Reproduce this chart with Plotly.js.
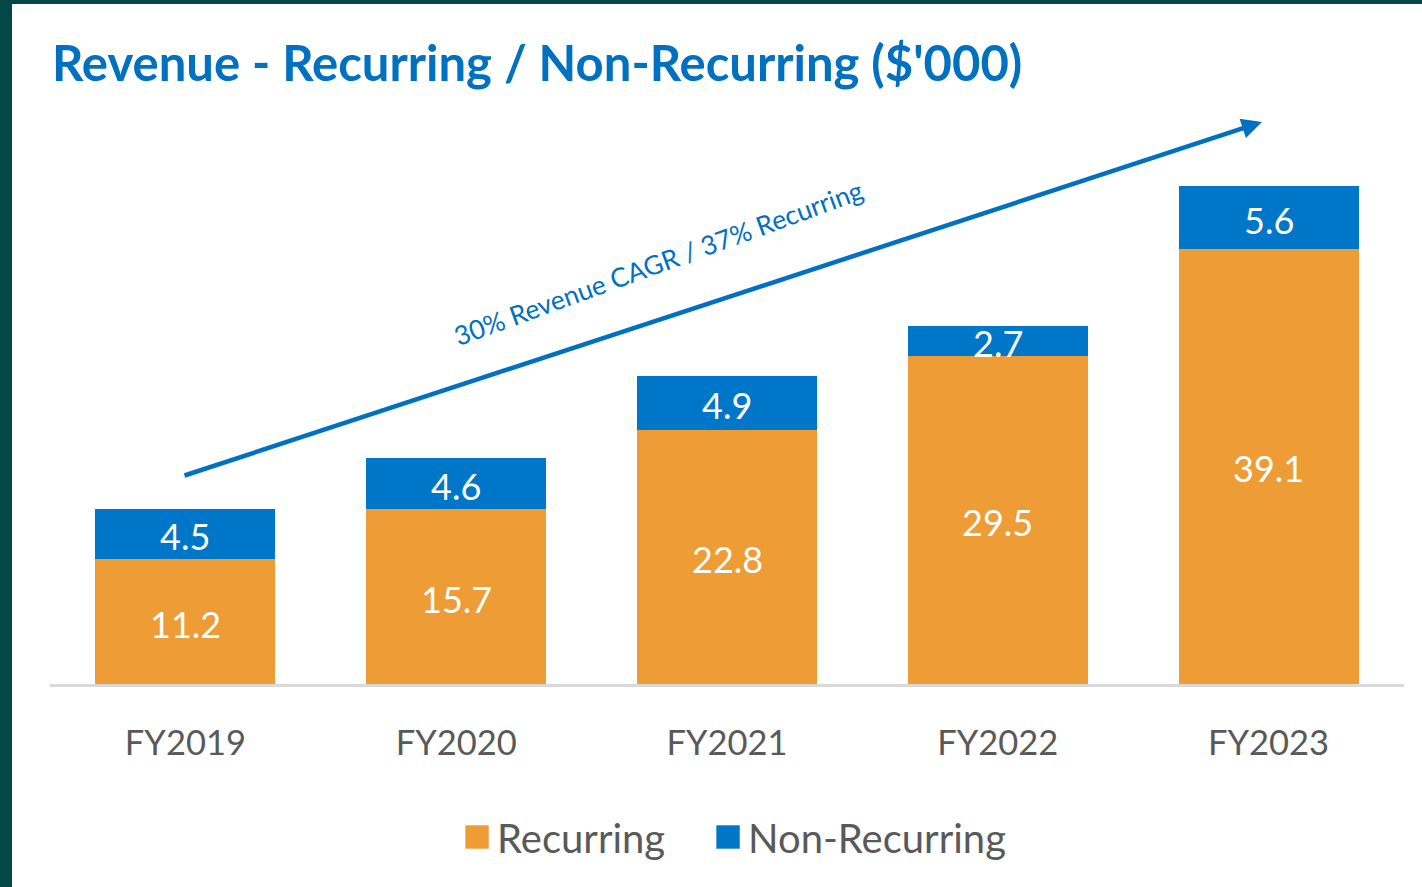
<!DOCTYPE html>
<html>
<head>
<meta charset="utf-8">
<script src="https://cdn.plot.ly/plotly-3.0.1.min.js"></script>
<style>
  html, body { margin: 0; padding: 0; width: 1422px; height: 887px; background: #034846; overflow: hidden; }
  #chart { position: absolute; left: 12px; top: 4px; width: 1410px; height: 883px; background: #ffffff; }
</style>
</head>
<body>
<div id="chart"></div>
<script>
const categories = ['FY2019', 'FY2020', 'FY2021', 'FY2022', 'FY2023'];
const recurring = [11.2, 15.7, 22.8, 29.5, 39.1];
const nonRecurring = [4.5, 4.6, 4.9, 2.7, 5.6];
const seriesNames = ['Recurring', 'Non-Recurring'];
const chartTitle = "Revenue - Recurring / Non-Recurring ($'000)";
const cagrText = '30% Revenue CAGR / 37% Recurring';

const ORANGE = '#EE9C35';
const BLUE = '#0076C8';
const TITLE_BLUE = '#0070C0';
const GREY = '#595959';
const FONT = 'Lato, "Noto Sans", sans-serif';

const traces = [
  {
    type: 'bar', name: seriesNames[0], x: categories, y: recurring,
    marker: { color: ORANGE, line: { width: 0 } }, hoverinfo: 'skip'
  },
  {
    type: 'bar', name: seriesNames[1], x: categories, y: nonRecurring,
    marker: { color: BLUE, line: { width: 0 } }, hoverinfo: 'skip'
  }
];

const labelAnnotations = [];
categories.forEach((c, i) => {
  labelAnnotations.push({
    x: c, y: recurring[i] / 2, xref: 'x', yref: 'y', showarrow: false,
    xanchor: 'center', yanchor: 'middle', yshift: -2,
    text: recurring[i].toFixed(1), font: { family: FONT, size: 36, color: '#ffffff' }
  });
  labelAnnotations.push({
    x: c, y: recurring[i] + nonRecurring[i] / 2, xref: 'x', yref: 'y', showarrow: false,
    xanchor: 'center', yanchor: 'middle', yshift: -2,
    text: nonRecurring[i].toFixed(1), font: { family: FONT, size: 36, color: '#ffffff' }
  });
});

const layout = {
  width: 1410, height: 883,
  paper_bgcolor: '#ffffff', plot_bgcolor: '#ffffff',
  margin: { l: 38, r: 18, t: 96, b: 203 },
  barmode: 'stack', bargap: 0.335,
  showlegend: true,
  title: {
    text: '<b>' + chartTitle + '</b>',
    x: 40 / 1410, xanchor: 'left', xref: 'container',
    y: 1 - 60 / 883, yanchor: 'middle', yref: 'container',
    font: { family: FONT, size: 49, color: TITLE_BLUE }
  },
  xaxis: {
    type: 'category', showgrid: false, zeroline: false,
    showline: true, linecolor: '#d9d9d9', linewidth: 2.5,
    ticks: '', ticklabelstandoff: 27,
    tickfont: { family: FONT, size: 34.5, color: GREY }
  },
  yaxis: {
    range: [0, 52.47], showgrid: false, zeroline: false, showline: false,
    showticklabels: false, ticks: ''
  },
  legend: {
    orientation: 'h', x: 0.486, xanchor: 'center', y: -0.262, yanchor: 'middle',
    font: { family: FONT, size: 40, color: GREY }, traceorder: 'normal',
    entrywidth: 206, entrywidthmode: 'pixels',
    itemclick: false, itemdoubleclick: false
  },
  annotations: labelAnnotations.concat([
    {
      xref: 'paper', yref: 'paper', x: (1250 - 38) / 1354, y: (680 - 118) / 584,
      axref: 'pixel', ayref: 'pixel', ax: -1079, ay: 354,
      showarrow: true, arrowhead: 2, arrowsize: 0.9, arrowwidth: 4.5, arrowcolor: TITLE_BLUE,
      standoff: 0, startstandoff: 0, text: ''
    },
    {
      xref: 'paper', yref: 'paper', x: (646 - 38) / 1354, y: (680 - 259) / 584,
      xanchor: 'center', yanchor: 'middle',
      showarrow: false, textangle: -20, text: cagrText,
      font: { family: FONT, size: 26.5, color: TITLE_BLUE }
    }
  ])
};

Plotly.newPlot('chart', traces, layout, { staticPlot: true, displayModeBar: false }).then(() => {
  document.querySelectorAll('.legend .legendpoints path').forEach(p => {
    const t = p.getAttribute('transform') || '';
    p.setAttribute('transform', t + ' scale(1.95)');
  });
  document.querySelectorAll('.legend [clip-path]').forEach(e => e.removeAttribute('clip-path'));
});
</script>
</body>
</html>
